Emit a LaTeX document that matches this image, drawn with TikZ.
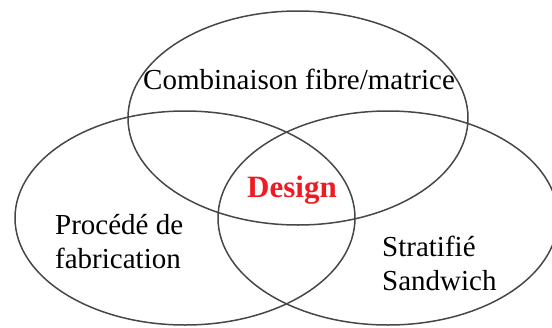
\documentclass[tikz,border=0pt]{standalone}
\usepackage{fontspec}
\setmainfont{Liberation Serif}
\definecolor{designred}{RGB}{237,28,36}
\begin{document}
\begin{tikzpicture}[x=1pt,y=-1pt,
    ring/.style={draw=black!72,line width=1.5pt},
    venntext/.style={font=\fontsize{29}{34}\selectfont,inner sep=0pt,align=left}]
  \useasboundingbox (0,0) rectangle (552,327);
  \clip (0,0) rectangle (552,327);
  % the three sets
  \foreach \x/\y in {298/118,185/218,388/218} {
    \draw[ring] (\x,\y) ellipse [x radius=170,y radius=107];
  }
  \node[venntext,anchor=base] (combi) at (299,89) {Combinaison fibre/matrice};
  \node[venntext,anchor=base west] (procede) at (55,268) {Procédé de\\fabrication};
  \node[venntext,anchor=base west] (strat) at (382,290) {Stratifié\\Sandwich};
  \node[venntext,anchor=base,font=\fontsize{31}{34}\selectfont\bfseries,text=designred] (design) at (292,197) {Design};
\end{tikzpicture}
\end{document}
